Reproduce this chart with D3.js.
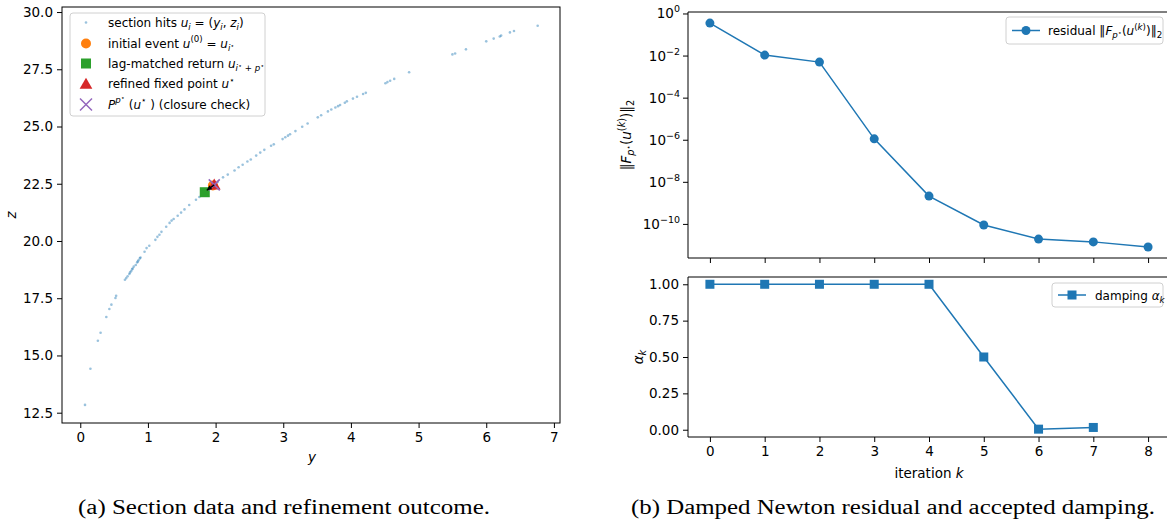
<!DOCTYPE html>
<html><head><meta charset="utf-8">
<script src="https://cdn.jsdelivr.net/npm/d3@7"></script>
<style>
html,body{margin:0;padding:0;background:#fff;}
svg{display:block;font-family:"DejaVu Sans",sans-serif;}
</style></head>
<body>
<svg id="chart" width="1167" height="525"></svg>
<script>
// ---------------- DATA ----------------
const hitsY = [0.07,0.15,0.26,0.30,0.385,0.43,0.46,0.52,0.53,0.66,0.68,0.70,0.725,0.735,0.75,0.765,0.775,0.79,0.82,0.84,0.85,0.86,0.88,0.89,0.95,0.98,1.02,1.11,1.14,1.17,1.20,1.27,1.32,1.35,1.38,1.44,1.49,1.54,1.61,1.71,1.76,1.80,1.86,1.93,1.98,2.03,2.11,2.18,2.28,2.34,2.40,2.47,2.52,2.60,2.66,2.72,2.82,2.86,2.99,3.03,3.07,3.10,3.18,3.28,3.36,3.51,3.56,3.66,3.71,3.77,3.81,3.84,3.91,3.94,4.03,4.09,4.18,4.22,4.51,4.54,4.58,4.64,4.86,5.50,5.54,5.70,6.00,6.11,6.20,6.22,6.35,6.41,6.76];
const hitsZ = [12.84,14.42,15.64,15.99,16.68,17.03,17.22,17.51,17.61,18.31,18.38,18.46,18.56,18.62,18.68,18.76,18.80,18.88,18.95,19.06,19.10,19.16,19.24,19.28,19.53,19.69,19.79,20.05,20.18,20.27,20.40,20.62,20.79,20.89,20.96,21.10,21.24,21.38,21.57,21.80,21.92,22.02,22.18,22.34,22.46,22.58,22.78,22.90,23.08,23.22,23.33,23.47,23.56,23.73,23.86,23.98,24.16,24.22,24.45,24.53,24.60,24.66,24.80,24.99,25.13,25.40,25.49,25.66,25.74,25.83,25.89,25.94,26.04,26.10,26.22,26.30,26.42,26.47,26.89,26.94,27.00,27.08,27.37,28.15,28.19,28.37,28.72,28.84,28.93,28.97,29.11,29.17,29.40];
const initialEvent = [1.96, 22.42];
const lagReturn = [1.84, 22.13];
const fixedPoint = [1.98, 22.45];
const closurePoint = [1.98, 22.45];
const leftXTicks = [0,1,2,3,4,5,6,7];
const leftYTicks = [12.5,15.0,17.5,20.0,22.5,25.0,27.5,30.0];

const iterations = [0,1,2,3,4,5,6,7,8];
const residuals = [0.35,0.0105,0.0049,1.1e-6,2.1e-9,8.9e-11,1.9e-11,1.4e-11,8.0e-12];
const dampIter = [0,1,2,3,4,5,6,7];
const damping = [1,1,1,1,1,0.5,0.0039,0.0156];
const resYTickExp = [0,-2,-4,-6,-8,-10];
const dampYTicks = [0.00,0.25,0.50,0.75,1.00];

const captionA = "(a) Section data and refinement outcome.";
const captionB = "(b) Damped Newton residual and accepted damping.";

// ---------------- HELPERS ----------------
const C = {blue:"#1f77b4", orange:"#ff7f0e", green:"#2ca02c", red:"#d62728", purple:"#9467bd"};
const svg = d3.select("#chart");
const FS = 13.5;
const LFS = 12;

function rich(t, parts, fs){
  const lvl = {base:[0,1], sub:[0.25,0.72], sup:[-0.42,0.72], subsup:[0.0,0.55], supsup:[-0.75,0.55]};
  let cur = 0;
  parts.forEach(p=>{
    const [txt, fl=""] = p;
    const flags = fl.split(" ");
    let key = "base";
    ["sub","sup","subsup","supsup"].forEach(k=>{ if(flags.includes(k)) key=k; });
    const [off, sc] = lvl[key];
    const target = off*fs;
    const ts = t.append("tspan").text(txt)
      .attr("dy", (target-cur).toFixed(2))
      .attr("font-size", (fs*sc).toFixed(2));
    if (flags.includes("i")) ts.attr("font-style","italic");
    cur = target;
  });
  return t;
}

function frame(g, x0, x1, y0, y1){
  g.append("rect").attr("x",x0).attr("y",y0).attr("width",x1-x0).attr("height",y1-y0)
    .attr("fill","none").attr("stroke","#000").attr("stroke-width",1);
}
function styleAxis(a){
  a.select(".domain").remove();
  a.selectAll(".tick line").attr("stroke","#000").attr("stroke-width",1);
  a.selectAll(".tick text").attr("font-size",FS).attr("fill","#000").attr("font-family","DejaVu Sans");
}

// ---------------- LEFT PANEL ----------------
const L = {x0:62, x1:560, y0:7, y1:423};
const xL = d3.scaleLinear().domain([-0.27,7.09]).range([L.x0,L.x1]);
const yL = d3.scaleLinear().domain([12.05,30.22]).range([L.y1,L.y0]);
const gL = svg.append("g");

const axLx = gL.append("g").attr("transform",`translate(0,${L.y1})`)
  .call(d3.axisBottom(xL).tickValues(leftXTicks).tickSize(5).tickPadding(4).tickFormat(d3.format("d")));
styleAxis(axLx);
const axLy = gL.append("g").attr("transform",`translate(${L.x0},0)`)
  .call(d3.axisLeft(yL).tickValues(leftYTicks).tickSize(5).tickPadding(4).tickFormat(d3.format(".1f")));
styleAxis(axLy);

gL.append("g").selectAll("circle").data(hitsY.map((v,i)=>[v,hitsZ[i]])).join("circle")
  .attr("cx",d=>xL(d[0])).attr("cy",d=>yL(d[1])).attr("r",1.3)
  .attr("fill",C.blue).attr("fill-opacity",0.45);

gL.append("circle").attr("cx",xL(initialEvent[0])).attr("cy",yL(initialEvent[1])).attr("r",5).attr("fill",C.orange);
gL.append("rect").attr("x",xL(lagReturn[0])-5).attr("y",yL(lagReturn[1])-5).attr("width",10).attr("height",10).attr("fill",C.green);
const tri = d3.symbol().type(d3.symbolTriangle).size(70);
gL.append("path").attr("d",tri()).attr("transform",`translate(${xL(fixedPoint[0])},${yL(fixedPoint[1])+1})`).attr("fill",C.red);
const cx = xL(closurePoint[0]), cy = yL(closurePoint[1]);
gL.append("path").attr("d",`M${cx-5.5},${cy-5.5}L${cx+5.5},${cy+5.5}M${cx-5.5},${cy+5.5}L${cx+5.5},${cy-5.5}`)
  .attr("stroke",C.purple).attr("stroke-width",1.5).attr("fill","none");
{
  const ax0 = xL(fixedPoint[0]), ay0 = yL(fixedPoint[1]);
  const ax1 = xL(lagReturn[0])+2, ay1 = yL(lagReturn[1])-2;
  const ang = Math.atan2(ay1-ay0, ax1-ax0);
  gL.append("line").attr("x1",ax0).attr("y1",ay0).attr("x2",ax1).attr("y2",ay1).attr("stroke","#000").attr("stroke-width",1.3);
  const h=5, w=2.5;
  const bx = ax1 - h*Math.cos(ang), by = ay1 - h*Math.sin(ang);
  gL.append("path").attr("d",`M${ax1},${ay1}L${bx - w*Math.sin(ang)},${by + w*Math.cos(ang)}L${bx + w*Math.sin(ang)},${by - w*Math.cos(ang)}Z`).attr("fill","#000");
}
frame(gL, L.x0, L.x1, L.y0, L.y1);

gL.append("text").attr("x",(L.x0+L.x1)/2+1).attr("y",462).attr("text-anchor","middle")
  .attr("font-size",13.5).attr("font-style","italic").text("y");
gL.append("text").attr("transform",`translate(16,${(L.y0+L.y1)/2}) rotate(-90)`).attr("text-anchor","middle")
  .attr("font-size",13.5).attr("font-style","italic").text("z");

// left legend
{
  const lg = gL.append("g");
  lg.append("rect").attr("x",70).attr("y",13).attr("width",195).attr("height",103).attr("rx",3)
    .attr("fill","#fff").attr("fill-opacity",0.8).attr("stroke","#d0d0d0").attr("stroke-width",1);
  const mx = 86, tx = 108;
  const rows = [22.5, 43.5, 63.5, 84, 104.5];
  lg.append("circle").attr("cx",mx).attr("cy",rows[0]).attr("r",1.3).attr("fill",C.blue).attr("fill-opacity",0.45);
  lg.append("circle").attr("cx",mx).attr("cy",rows[1]).attr("r",5).attr("fill",C.orange);
  lg.append("rect").attr("x",mx-5).attr("y",rows[2]-5).attr("width",10).attr("height",10).attr("fill",C.green);
  lg.append("path").attr("d",tri()).attr("transform",`translate(${mx},${rows[3]+1})`).attr("fill",C.red);
  lg.append("path").attr("d",`M${mx-6},${rows[4]-6}L${mx+6},${rows[4]+6}M${mx-6},${rows[4]+6}L${mx+6},${rows[4]-6}`)
    .attr("stroke",C.purple).attr("stroke-width",1.5);
  const T = (i)=>lg.append("text").attr("x",tx).attr("y",rows[i]+4).attr("font-size",LFS);
  rich(T(0), [["section hits "],["u","i"],["i","i sub"],[" = ("],["y","i"],["i","i sub"],[", "],["z","i"],["i","i sub"],[")"]], LFS);
  rich(T(1), [["initial event "],["u","i"],["(0)","sup"],[" = "],["u","i"],["i","i sub"],["\u22C6","subsup"]], LFS);
  rich(T(2), [["lag-matched return "],["u","i"],["i","i sub"],["\u22C6","subsup"],[" + ","sub"],["p","i sub"],["\u22C6","subsup"]], LFS);
  rich(T(3), [["refined fixed point "],["u","i"],["\u22C6","sup"]], LFS);
  rich(T(4), [["P","i"],["p","i sup"],["\u22C6","supsup"],[" ("],["u","i"],["\u22C6","sup"],[" ) (closure check)"]], LFS);
}

// ---------------- RIGHT PANELS ----------------
const R = {x0:688, x1:1170};
const xR = d3.scaleLinear().domain([-0.4,8.4]).range([R.x0,R.x1]);
const RT = {y0:12, y1:258};
const RB = {y0:277, y1:437};
const yRes = d3.scaleLog().domain([Math.pow(10,-11.62), Math.pow(10,0.07)]).range([RT.y1,RT.y0]);
const yDamp = d3.scaleLinear().domain([-0.05,1.05]).range([RB.y1,RB.y0]);
const gR = svg.append("g");

const axRTx = gR.append("g").attr("transform",`translate(0,${RT.y1})`)
  .call(d3.axisBottom(xR).tickValues(iterations).tickSize(5).tickFormat(""));
styleAxis(axRTx);
const axRTy = gR.append("g").attr("transform",`translate(${R.x0},0)`)
  .call(d3.axisLeft(yRes).tickValues(resYTickExp.map(e=>Math.pow(10,e))).tickSize(5).tickFormat(""));
styleAxis(axRTy);
resYTickExp.forEach(e=>{
  const t = gR.append("text").attr("x",680).attr("y",yRes(Math.pow(10,e))+5).attr("text-anchor","end").attr("font-size",FS);
  t.append("tspan").text("10");
  t.append("tspan").text(e===0?"0":"\u2212"+(-e)).attr("font-size",9.5).attr("dy",-6);
});
const lineRes = d3.line().x((d,i)=>xR(iterations[i])).y(d=>yRes(d));
gR.append("path").datum(residuals).attr("d",lineRes).attr("fill","none").attr("stroke",C.blue).attr("stroke-width",1.5);
gR.append("g").selectAll("circle").data(residuals).join("circle")
  .attr("cx",(d,i)=>xR(iterations[i])).attr("cy",d=>yRes(d)).attr("r",4.5).attr("fill",C.blue);
gR.append("line").attr("x1",R.x0).attr("x2",R.x1).attr("y1",RT.y0).attr("y2",RT.y0).attr("stroke","#000");
gR.append("line").attr("x1",R.x0).attr("x2",R.x1).attr("y1",RT.y1).attr("y2",RT.y1).attr("stroke","#000");
gR.append("line").attr("x1",R.x0).attr("x2",R.x0).attr("y1",RT.y0).attr("y2",RT.y1).attr("stroke","#000");

{
  const t = gR.append("text").attr("transform",`translate(631,${(RT.y0+RT.y1)/2}) rotate(-90)`).attr("text-anchor","middle").attr("font-size",13.5);
  rich(t, [["\u2016"],["F","i"],["p","i sub"],["\u22C6","subsup"],["("],["u","i"],["(","sup"],["k","i sup"],[")","sup"],[")\u2016"],["2","sub"]], 13.5);
}
{
  gR.append("rect").attr("x",1006).attr("y",17).attr("width",157).attr("height",27).attr("rx",3)
    .attr("fill","#fff").attr("fill-opacity",0.8).attr("stroke","#d0d0d0");
  gR.append("line").attr("x1",1012).attr("x2",1040).attr("y1",30.5).attr("y2",30.5).attr("stroke",C.blue).attr("stroke-width",1.5);
  gR.append("circle").attr("cx",1026).attr("cy",30.5).attr("r",4.5).attr("fill",C.blue);
  const t = gR.append("text").attr("x",1048).attr("y",35).attr("font-size",LFS);
  rich(t, [["residual \u2016"],["F","i"],["p","i sub"],["\u22C6","subsup"],["("],["u","i"],["(","sup"],["k","i sup"],[")","sup"],[")\u2016"],["2","sub"]], LFS);
}

const axRBx = gR.append("g").attr("transform",`translate(0,${RB.y1})`)
  .call(d3.axisBottom(xR).tickValues(iterations).tickSize(5).tickPadding(4).tickFormat(d3.format("d")));
styleAxis(axRBx);
const axRBy = gR.append("g").attr("transform",`translate(${R.x0},0)`)
  .call(d3.axisLeft(yDamp).tickValues(dampYTicks).tickSize(5).tickPadding(4).tickFormat(d3.format(".2f")));
styleAxis(axRBy);
const lineDamp = d3.line().x((d,i)=>xR(dampIter[i])).y(d=>yDamp(d));
gR.append("path").datum(damping).attr("d",lineDamp).attr("fill","none").attr("stroke",C.blue).attr("stroke-width",1.5);
gR.append("g").selectAll("rect").data(damping).join("rect")
  .attr("x",(d,i)=>xR(dampIter[i])-4.5).attr("y",d=>yDamp(d)-4.5).attr("width",9).attr("height",9).attr("fill",C.blue);
gR.append("line").attr("x1",R.x0).attr("x2",R.x1).attr("y1",RB.y0).attr("y2",RB.y0).attr("stroke","#000");
gR.append("line").attr("x1",R.x0).attr("x2",R.x1).attr("y1",RB.y1).attr("y2",RB.y1).attr("stroke","#000");
gR.append("line").attr("x1",R.x0).attr("x2",R.x0).attr("y1",RB.y0).attr("y2",RB.y1).attr("stroke","#000");

{
  const t = gR.append("text").attr("transform",`translate(643,${(RB.y0+RB.y1)/2}) rotate(-90)`).attr("text-anchor","middle").attr("font-size",13.5);
  rich(t, [["\u03B1","i"],["k","i sub"]], 13.5);
  const t2 = gR.append("text").attr("x",(xR(0)+xR(8))/2).attr("y",478).attr("text-anchor","middle").attr("font-size",13.5);
  rich(t2, [["iteration "],["k","i"]], 13.5);
}
{
  gR.append("rect").attr("x",1052).attr("y",283).attr("width",111).attr("height",24).attr("rx",3)
    .attr("fill","#fff").attr("fill-opacity",0.8).attr("stroke","#d0d0d0");
  gR.append("line").attr("x1",1058).attr("x2",1086).attr("y1",295).attr("y2",295).attr("stroke",C.blue).attr("stroke-width",1.5);
  gR.append("rect").attr("x",1067.5).attr("y",290.5).attr("width",9).attr("height",9).attr("fill",C.blue);
  const t = gR.append("text").attr("x",1095).attr("y",299.5).attr("font-size",LFS);
  rich(t, [["damping "],["\u03B1","i"],["k","i sub"]], LFS);
}

svg.append("text").attr("x",78).attr("y",514).attr("font-family","'Liberation Serif',serif").attr("font-size",20)
  .attr("textLength",412).attr("lengthAdjust","spacingAndGlyphs").text(captionA);
svg.append("text").attr("x",631).attr("y",514).attr("font-family","'Liberation Serif',serif").attr("font-size",20)
  .attr("textLength",524).attr("lengthAdjust","spacingAndGlyphs").text(captionB);
</script>
</body></html>
